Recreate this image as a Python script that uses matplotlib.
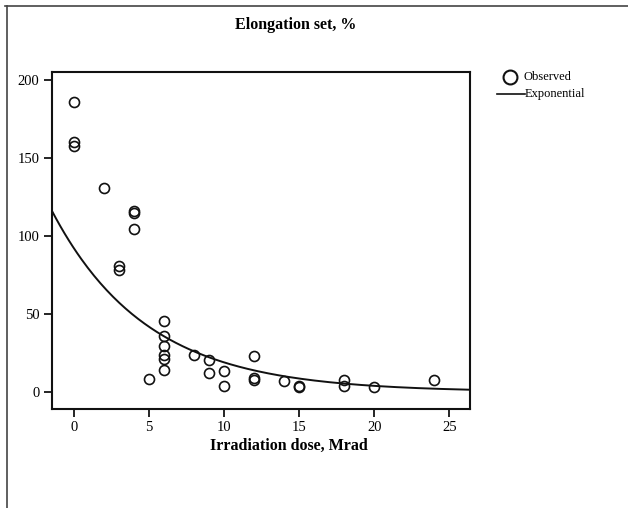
import numpy as np
import matplotlib
matplotlib.use('Agg')
import matplotlib.pyplot as plt
from matplotlib.lines import Line2D

plt.rcParams['font.family'] = ['Liberation Serif', 'DejaVu Serif']

# observed points (dose in Mrad, elongation set in %)
dose = [0, 0, 0, 2, 3, 3, 4, 4, 4, 5,
        6, 6, 6, 6, 6, 6, 8, 9, 9, 10, 10,
        12, 12, 12, 14, 15, 15, 18, 18, 20, 24]
elong = [186, 160, 158, 131, 81, 78, 116, 115, 104.5, 8.3,
         45.5, 36, 29.5, 23.5, 21, 14, 23.5, 20.5, 12.2, 13.5, 4,
         23, 9, 7.7, 7, 4, 3.2, 7.6, 4, 3.4, 7.6]

# exponential model line: y = a * exp(-b * x)
fit_a = 92.0
fit_b = 0.158

xlim = (-1.47, 26.4)
ylim = (-10.9, 205.1)

fig = plt.figure(figsize=(6.28, 5.08), dpi=100)
ax = fig.add_axes([0.0828, 0.195, 0.666, 0.663])

xs = np.linspace(xlim[0], xlim[1], 200)
ax.plot(xs, fit_a * np.exp(-fit_b * xs), color='#111111', lw=1.4)
ax.plot(dose, elong, 'o', mfc='none', mec='#111111', ms=7.2, mew=1.2)

ax.set_xlim(xlim)
ax.set_ylim(ylim)
ax.set_xticks([0, 5, 10, 15, 20, 25])
ax.set_yticks([0, 50, 100, 150, 200])
ax.tick_params(direction='out', length=6, width=1.2, labelsize=10.5, pad=3)
for s in ax.spines.values():
    s.set_linewidth(1.5)
    s.set_color('#111111')

fig.text(296 / 628, 1 - 25 / 508, 'Elongation set, %', ha='center', va='center',
         fontsize=11.5, fontweight='bold')
fig.text(289 / 628, 1 - 446 / 508, 'Irradiation dose, Mrad', ha='center', va='center',
         fontsize=11.5, fontweight='bold')

# legend drawn by hand to sit outside the plot box
fig.add_artist(Line2D([510 / 628], [1 - 77 / 508], marker='o', mfc='none', mec='#111111',
                      ms=10, mew=1.5, transform=fig.transFigure))
fig.text(524 / 628, 1 - 77 / 508, 'Observed', ha='left', va='center', fontsize=9)
fig.add_artist(Line2D([497 / 628, 525 / 628], [1 - 94 / 508, 1 - 94 / 508], color='#111111',
                      lw=1.2, transform=fig.transFigure))
fig.text(525 / 628, 1 - 94 / 508, 'Exponential', ha='left', va='center', fontsize=9)

# outer frame: top and left edges
fig.add_artist(Line2D([5 / 628, 1], [1 - 6 / 508, 1 - 6 / 508], color='#444444', lw=1.2,
                      transform=fig.transFigure))
fig.add_artist(Line2D([7 / 628, 7 / 628], [0, 1 - 6 / 508], color='#444444', lw=1.2,
                      transform=fig.transFigure))

fig.savefig('out.png', dpi=100)
